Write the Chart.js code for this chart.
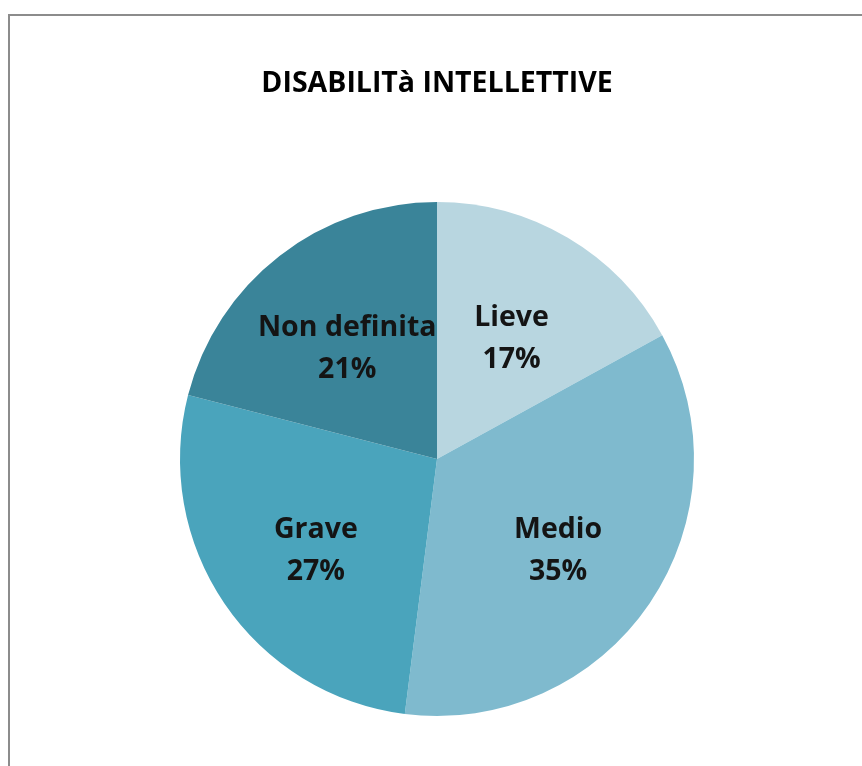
<!DOCTYPE html>
<html>
<head>
<meta charset="utf-8">
<script src="https://cdn.jsdelivr.net/npm/chart.js@4/dist/chart.umd.min.js"></script>
<style>
  html, body { margin: 0; padding: 0; background: #fff; overflow: hidden; }
  #frame {
    position: absolute; left: 8px; top: 14px; width: 900px; height: 800px;
    border-top: 2px solid #8c8c8c; border-left: 2px solid #8c8c8c;
  }
  #wrap { position: absolute; left: 0; top: 0; width: 862px; height: 766px; }
</style>
</head>
<body>
<div id="frame"></div>
<div id="wrap"><canvas id="myChart"></canvas></div>
<script>
var titleText = 'DISABILITà INTELLETTIVE';
var categories = ['Lieve', 'Medio', 'Grave', 'Non definita'];
var values = [17, 35, 27, 21];
var colors = ['#b8d6e0', '#7fbace', '#4aa4bc', '#3a8499'];

// labels inside the slices, name + percent on two lines
var sliceLabels = {
    id: 'sliceLabels',
    afterDatasetsDraw: function(chart) {
        var ctx = chart.ctx;
        var meta = chart.getDatasetMeta(0);
        var total = values.reduce(function(a, b) { return a + b; }, 0);
        ctx.save();
        ctx.fillStyle = '#141414';
        ctx.font = 'bold 28.5px "Open Sans", "Liberation Sans", sans-serif';
        ctx.textAlign = 'center';
        ctx.textBaseline = 'middle';
        meta.data.forEach(function(arc, i) {
            var mid = (arc.startAngle + arc.endAngle) / 2;
            var r = arc.outerRadius * 0.57;
            var x = arc.x + Math.cos(mid) * r;
            var y = arc.y + Math.sin(mid) * r + 6;
            if (Math.sin(mid) > 0) y += 4;
            var pct = Math.round(values[i] / total * 100) + '%';
            ctx.fillText(categories[i], x, y - 21);
            ctx.fillText(pct, x, y + 21);
        });
        ctx.restore();
    }
};

var ctx = document.getElementById('myChart');
var myChart = new Chart(ctx, {
    type: 'pie',
    data: {
        labels: categories,
        datasets: [{
            data: values,
            backgroundColor: colors,
            borderWidth: 0
        }]
    },
    options: {
        responsive: true,
        maintainAspectRatio: false,
        animation: false,
        layout: { padding: { left: 12, right: 0, top: 0, bottom: 50 } },
        plugins: {
            legend: { display: false },
            tooltip: { enabled: false },
            title: {
                display: true,
                text: titleText,
                color: '#000',
                font: { family: '"Open Sans", "Liberation Sans", sans-serif', size: 28.5, weight: 'bold', lineHeight: 1.2 },
                padding: { top: 67, bottom: 100.8 }
            }
        }
    },
    plugins: [sliceLabels]
});
</script>
</body>
</html>
